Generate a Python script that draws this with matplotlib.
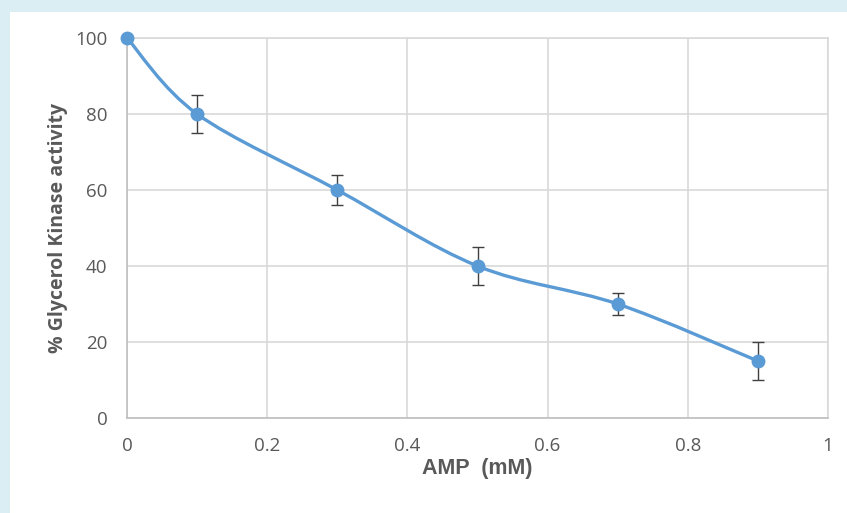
import matplotlib
matplotlib.use("Agg")
import matplotlib.pyplot as plt
from matplotlib.path import Path
from matplotlib.patches import PathPatch, Rectangle

# data
amp = [0.0, 0.1, 0.3, 0.5, 0.7, 0.9]
activity = [100, 80, 60, 40, 30, 15]
err = [0, 5, 4, 5, 3, 5]

x_ticks = [0, 0.2, 0.4, 0.6, 0.8, 1]
x_labels = ["0", "0.2", "0.4", "0.6", "0.8", "1"]
y_ticks = [0, 20, 40, 60, 80, 100]

blue = "#5B9BD5"
grey_txt = "#595959"


def smooth_path(xs, ys, t=1/6):
    # excel-style smoothed line: cubic bezier through each point
    pts = list(zip(xs, ys))
    n = len(pts)
    verts = [pts[0]]
    codes = [Path.MOVETO]
    for i in range(n - 1):
        p0 = pts[i - 1] if i > 0 else pts[i]
        p1 = pts[i]
        p2 = pts[i + 1]
        p3 = pts[i + 2] if i + 2 < n else pts[i + 1]
        c1 = (p1[0] + (p2[0] - p0[0]) * t, p1[1] + (p2[1] - p0[1]) * t)
        c2 = (p2[0] - (p3[0] - p1[0]) * t, p2[1] - (p3[1] - p1[1]) * t)
        verts += [c1, c2, p2]
        codes += [Path.CURVE4] * 3
    return Path(verts, codes)


fig = plt.figure(figsize=(8.47, 5.13), dpi=100)
fig.patch.set_facecolor("#DAEEF3")
fig.patches.append(Rectangle((10 / 847, 0), 1, 1 - 12 / 513, transform=fig.transFigure,
                             facecolor="white", edgecolor="none", zorder=-10))

ax = fig.add_axes([127 / 847, 1 - 418 / 513, 701 / 847, 380 / 513])
ax.set_facecolor("white")
ax.set_xlim(0, 1)
ax.set_ylim(0, 100)

ax.set_xticks(x_ticks)
ax.set_xticklabels(x_labels)
ax.set_yticks(y_ticks)
ax.grid(True, color="#D9D9D9", lw=1.2)
ax.set_axisbelow(True)
ax.tick_params(length=0, labelsize=13.5, labelcolor=grey_txt)
for lab in ax.get_xticklabels() + ax.get_yticklabels():
    lab.set_fontfamily("Open Sans")
ax.tick_params(axis="x", pad=14)
ax.tick_params(axis="y", pad=14)

for s in ["top", "right"]:
    ax.spines[s].set_color("#D9D9D9")
    ax.spines[s].set_linewidth(1.2)
for s in ["left", "bottom"]:
    ax.spines[s].set_color("#BFBFBF")
    ax.spines[s].set_linewidth(1.2)

ax.add_patch(PathPatch(smooth_path(amp, activity), facecolor="none", edgecolor=blue,
                       lw=2.4, zorder=3, clip_on=False, capstyle="round"))
ax.errorbar(amp[1:], activity[1:], yerr=err[1:], fmt="none", ecolor="#404040",
            elinewidth=1, capsize=4.5, capthick=1, zorder=4)
ax.plot(amp, activity, "o", color=blue, ms=9, zorder=5, clip_on=False)

ax.set_xlabel("AMP  (mM)", fontsize=15.5, fontweight="bold", color=grey_txt,
              family="Liberation Sans", labelpad=2)
ax.set_ylabel("% Glycerol Kinase activity", fontsize=14, fontweight="bold",
              color=grey_txt, family="Open Sans", labelpad=5)

fig.savefig("out.png", dpi=100, facecolor=fig.get_facecolor())
